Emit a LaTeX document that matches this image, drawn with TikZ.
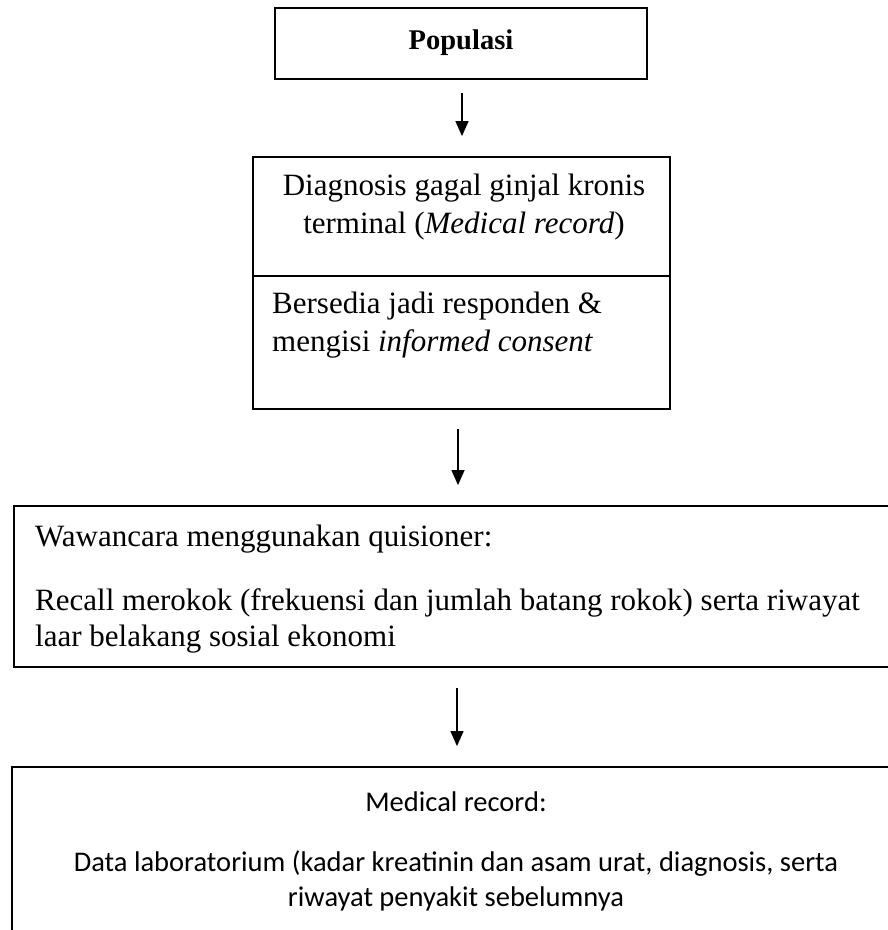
\documentclass[tikz,border=0pt]{standalone}
\usepackage{fontspec}
\setmainfont{Liberation Serif}
\newfontfamily\calfont{Carlito}
\usetikzlibrary{arrows.meta}
\tikzset{
  boxline/.style={draw=black, line width=1.8pt, inner sep=0pt},
  arr/.style={line width=1.3pt, -{Triangle[length=15pt,width=13pt]}},
  serif/.style={font=\fontsize{31}{38}\selectfont, inner sep=0pt},
  sans/.style={font=\calfont\fontsize{28.5}{35}\selectfont, inner sep=0pt},
}
\begin{document}
\begin{tikzpicture}[x=1pt,y=-1pt]
\useasboundingbox (0,0) rectangle (888,930);
\clip (0,0) rectangle (888,930);
\fill[white] (0,0) rectangle (888,930);
% boxes
\node[boxline, minimum width=372pt, minimum height=71pt] (pop) at (461,43.5) {};
\node[boxline, minimum width=417pt, minimum height=119pt] (diag) at (461.5,216.5) {};
\node[boxline, minimum width=417pt, minimum height=133pt] (cons) at (461.5,342.5) {};
\node[boxline, minimum width=936pt, minimum height=161pt] (waw) at (482,586.5) {};
\node[boxline, minimum width=938pt, minimum height=193pt] (med) at (481,863.5) {};
% texts
\node[serif, font=\fontsize{28.5}{34}\selectfont\bfseries] (poptxt) at (461,43) {Populasi};
\node[serif, align=center] (diagtxt) at (464,207) {Diagnosis gagal ginjal kronis\\terminal (\textit{Medical record})};
\node[serif, align=left, anchor=west] (constxt) at (272,325) {Bersedia jadi responden \&\\mengisi \textit{informed consent}};
\node[serif, anchor=west] (wawtxt) at (35,539) {Wawancara menggunakan quisioner:};
\node[serif, align=left, anchor=west, font=\fontsize{31}{36}\selectfont] (recalltxt) at (35,621) {Recall merokok (frekuensi dan jumlah batang rokok) serta riwayat\\laar belakang sosial ekonomi};
\node[sans] (medtxt) at (456,802) {Medical record:};
\node[sans, align=center] (datatxt) at (456,881) {Data laboratorium (kadar kreatinin dan asam urat, diagnosis, serta\\riwayat penyakit sebelumnya};
% arrows
\draw[arr, shorten <=13pt, shorten >=20pt] ([xshift=1pt]pop.south) -- ([xshift=1pt]pop.south |- diag.north);
\draw[arr, shorten <=19pt, shorten >=20pt] ([xshift=-3.5pt]cons.south) -- ([xshift=-3.5pt]cons.south |- waw.north);
\draw[arr, shorten <=20pt, shorten >=20pt] ([xshift=-4.5pt]cons.south |- waw.south) -- ([xshift=-4.5pt]cons.south |- med.north);
\end{tikzpicture}
\end{document}
